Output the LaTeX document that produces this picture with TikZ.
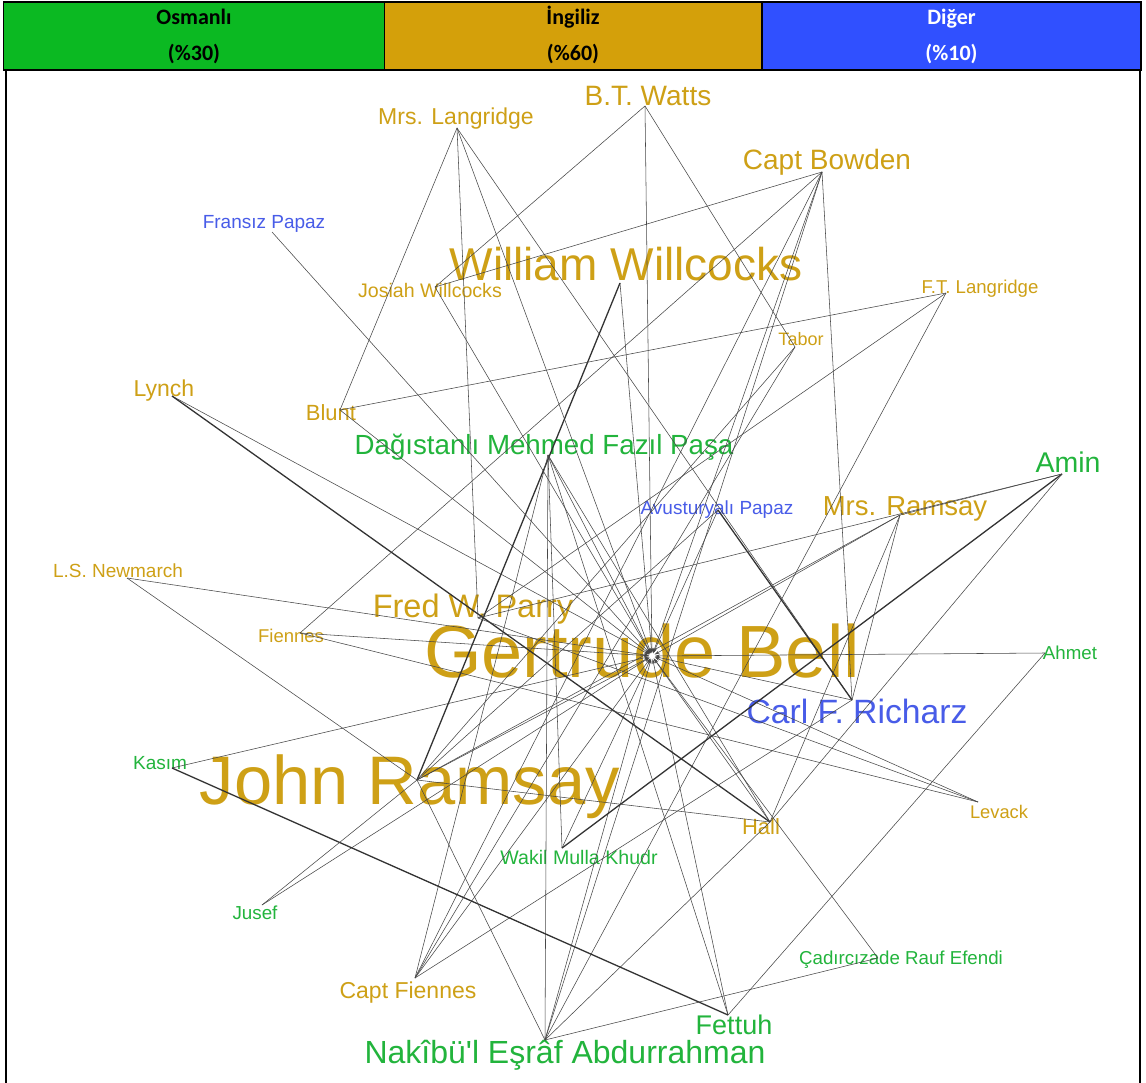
\documentclass[tikz,border=0pt]{standalone}
\usepackage{fontspec}
\setmainfont{Liberation Sans}
\newfontfamily\hdrfont{Carlito}
\newfontfamily\rawsans{Liberation Sans}
\usetikzlibrary{arrows.meta}
\definecolor{gld}{RGB}{206,160,22}
\definecolor{grn}{RGB}{34,180,60}
\definecolor{blu}{RGB}{72,92,232}
\definecolor{hgrn}{RGB}{11,185,34}
\definecolor{hgld}{RGB}{212,160,10}
\definecolor{hblu}{RGB}{48,80,255}
\newcommand\lblsz[1]{\fontsize{#1}{#1}\selectfont}
\begin{document}
\begin{tikzpicture}[x=1pt,y=-1pt,
  lab/.style={inner sep=0pt,anchor=base},
  gl/.style={lab,text=gld},
  gr/.style={lab,text=grn},
  bl/.style={lab,text=blu},
  cell/.style={draw=black,line width=1.5pt,minimum height=68pt,inner sep=0pt},
  htxt/.style={inner sep=0pt,anchor=base,font=\hdrfont\bfseries\lblsz{22}},
  edge/.style={draw=black!72,line width=0.55pt},
  thk/.style={draw=black!80,line width=1.3pt},
  ingb/.style={edge,-{Stealth[length=5pt,width=3pt]},shorten >=3pt}]
\useasboundingbox (0,0) rectangle (1146,1083);
\fill[white] (0,0) rectangle (1146,1083);
% header
\node[cell,fill=hgrn,minimum width=381pt] (h1) at (194,36) {};
\node[cell,fill=hgld,minimum width=377pt] (h2) at (573,36) {};
\node[cell,fill=hblu,minimum width=379pt] (h3) at (951.5,36) {};
\node[htxt] (h1a) at (194,25) {Osmanlı};
\node[htxt] (h1b) at (194,61) {(\%30)};
\node[htxt] (h2a) at (573,25) {İngiliz};
\node[htxt] (h2b) at (573,61) {(\%60)};
\node[htxt,text=white] (h3a) at (951.5,25) {Diğer};
\node[htxt,text=white] (h3b) at (951.5,61) {(\%10)};
\coordinate (fl1) at (6,70); \coordinate (fl2) at (6,1083);
\coordinate (fr1) at (1140,70); \coordinate (fr2) at (1140,1083);
\draw[line width=2pt] (fl1) -- (fl2);
\draw[line width=2pt] (fr1) -- (fr2);
% labels
\node[gl,font=\lblsz{23}] (ML) at (456,125) {Mrs. Langridge};
\node[gl,font=\lblsz{28}] (BT) at (648,106) {B.T. Watts};
\node[gl,font=\lblsz{28}] (CB) at (827,170) {Capt Bowden};
\node[bl,font=\lblsz{19}] (FP) at (264,229) {Fransız Papaz};
\node[gl,font=\lblsz{46}] (WW) at (626,281) {William Willcocks};
\node[gl,font=\lblsz{19.6}] (JW) at (430,298) {Josiah Willcocks};
\node[gl,font=\lblsz{18.6}] (FT) at (980,294) {F.T. Langridge};
\node[gl,font=\lblsz{18}] (TA) at (801,345) {Tabor};
\node[gl,font=\lblsz{23}] (LY) at (164,396) {Lynch};
\node[gl,font=\lblsz{22}] (BL) at (331,420) {Blunt};
\node[gr,font=\lblsz{27.7}] (DM) at (544,454) {Dağıstanlı Mehmed Fazıl Paşa};
\node[bl,font=\lblsz{19}] (AP) at (717,514) {Avusturyalı Papaz};
\node[gl,font=\lblsz{27.5}] (MR) at (905,515) {Mrs. Ramsay};
\node[gr,font=\lblsz{28.5}] (AM) at (1068,472) {Amin};
\node[gl,font=\lblsz{19}] (LS) at (118,577) {L.S. Newmarch};
\node[gl,font=\lblsz{32.5}] (FR) at (473,617) {Fred W. Parry};
\node[gl,font=\lblsz{18.5}] (FI) at (291,642) {Fiennes};
\node[gl,font=\lblsz{74}] (GB) at (642,677) {Gertrude Bell};
\node[gr,font=\lblsz{18.7}] (AH) at (1070,659) {Ahmet};
\node[bl,font=\lblsz{33.7}] (CR) at (857,723) {Carl F. Richarz};
\node[gr,font=\lblsz{19}] (KA) at (160,769) {Kasım};
\node[gl,font=\lblsz{68.7}] (JR) at (410,804) {John Ramsay};
\node[gl,font=\lblsz{18.3}] (LE) at (999,818) {Levack};
\node[gl,font=\lblsz{22}] (HA) at (761,834) {Hall};
\node[gr,font=\lblsz{19.6}] (WK) at (579,864) {Wakil Mulla Khudr};
\node[gr,font=\lblsz{18.8}] (JU) at (255,919) {Jusef};
\node[gr,font=\lblsz{18.7}] (CA) at (901,964) {Çadırcızade Rauf Efendi};
\node[gl,font=\lblsz{23}] (CF) at (408,998) {Capt Fiennes};
\node[gr,font=\lblsz{27}] (FE) at (734,1034) {Fettuh};
\node[gr,font=\rawsans\lblsz{32}] (NA) at (565,1063) {Nakîbü'l Eşrâf Abdurrahman};
% vertices
\coordinate (vML) at (457,128);
\coordinate (vBT) at (645,106);
\coordinate (vCB) at (822,172);
\coordinate (vFP) at (272,232);
\coordinate (vWW) at (620,283);
\coordinate (vJW) at (435,287);
\coordinate (vFT) at (946,293);
\coordinate (vTA) at (795,347);
\coordinate (vLY) at (172,396);
\coordinate (vBL) at (340,410);
\coordinate (vDM) at (548,455);
\coordinate (vAP) at (718,510);
\coordinate (vMR) at (900,515);
\coordinate (vAM) at (1062,474);
\coordinate (vLS) at (127,578);
\coordinate (vFR) at (478,618);
\coordinate (vFI) at (300,633);
\coordinate (vGB) at (652,656);
\coordinate (vAH) at (1045,653);
\coordinate (vCR) at (852,700);
\coordinate (vKA) at (172,768);
\coordinate (vJR) at (417,780);
\coordinate (vLE) at (978,802);
\coordinate (vHA) at (770,822);
\coordinate (vWK) at (562,848);
\coordinate (vJU) at (262,905);
\coordinate (vCA) at (878,958);
\coordinate (vCF) at (415,978);
\coordinate (vFE) at (728,1015);
\coordinate (vNA) at (545,1040);
% edges into Gertrude Bell
\foreach \s in {ML,BT,CB,FP,WW,JW,LY,BL,DM,MR,AH,FI,LS,KA,LE,CF,FE,NA,HA,WK,CA,JU,CR,JR,AP}
  \draw[ingb] (v\s) -- (vGB);
% other edges
\draw[edge] (vML) -- (vBL);
\draw[edge] (vML) -- (vFR);
\draw[edge] (vML) -- (vCR);
\draw[edge] (vBT) -- (vJW);
\draw[edge] (vBT) -- (vTA);
\draw[edge] (vCB) -- (vFI);
\draw[edge] (vCB) -- (vJW);
\draw[edge] (vCB) -- (vCF);
\draw[edge] (vCB) -- (vNA);
\draw[edge] (vCB) -- (vCR);
\draw[thk] (vWW) -- (vJR);
\draw[edge] (vFT) -- (vBL);
\draw[edge] (vFT) -- (vFR);
\draw[edge] (vFT) -- (vNA);
\draw[edge] (vTA) -- (vJR);
\draw[edge] (vTA) -- (vCF);
\draw[thk] (vLY) -- (vHA);
\draw[edge] (vDM) -- (vNA);
\draw[edge] (vDM) -- (vFE);
\draw[edge] (vDM) -- (vHA);
\draw[edge] (vDM) -- (vCF);
\draw[edge] (vDM) -- (vWK);
\draw[thk] (vAP) -- (vCR);
\draw[edge] (vAP) -- (vJR);
\draw[edge] (vMR) -- (vAM);
\draw[edge] (vMR) -- (vJR);
\draw[edge] (vMR) -- (vCR);
\draw[edge] (vMR) -- (vHA);
\draw[thk] (vAM) -- (vWK);
\draw[edge] (vAM) -- (vHA);
\draw[edge] (vAM) -- (vFR);
\draw[edge] (vAH) -- (vFE);
\draw[edge] (vCR) -- (vCF);
\draw[thk] (vKA) -- (vFE);
\draw[edge] (vJR) -- (vLS);
\draw[edge] (vJR) -- (vHA);
\draw[edge] (vJR) -- (vNA);
\draw[edge] (vJR) -- (vJU);
\draw[edge] (vLE) -- (vFI);
\draw[edge] (vLE) -- (vFR);
\draw[edge] (vHA) -- (vNA);
\draw[edge] (vCA) -- (vNA);
\end{tikzpicture}
\end{document}
